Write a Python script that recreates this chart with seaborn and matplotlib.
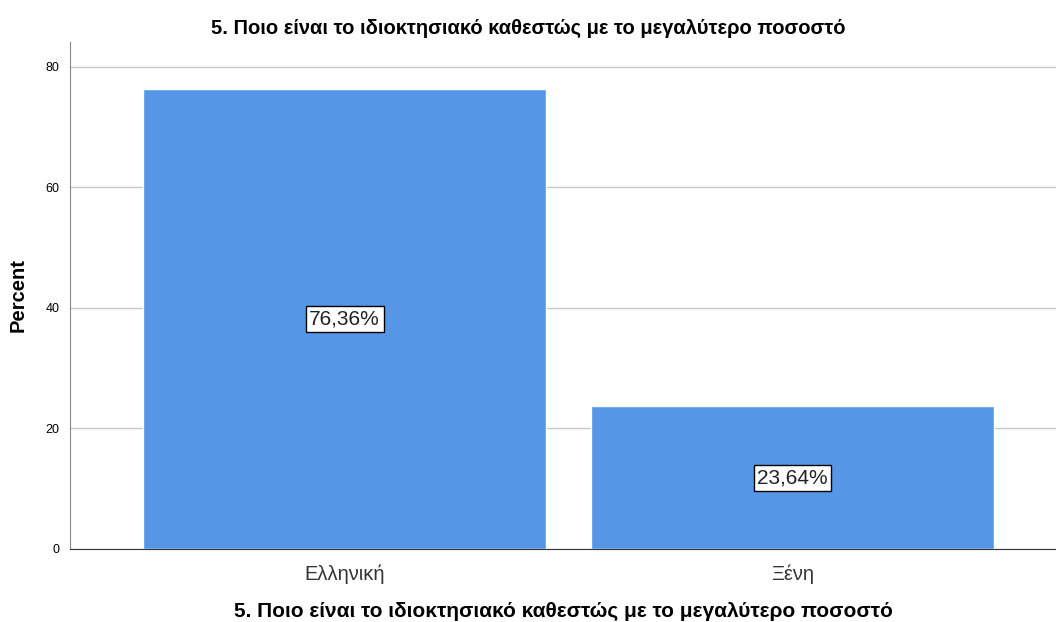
import seaborn as sns
import matplotlib.pyplot as plt
import pandas as pd

categories = ["Ελληνική", "Ξένη"]
percent = [76.36, 23.64]
labels = ["76,36%", "23,64%"]
title = "5. Ποιο είναι το ιδιοκτησιακό καθεστώς με το μεγαλύτερο ποσοστό"

df = pd.DataFrame({"cat": categories, "pct": percent})

sns.set_style("white")
plt.rcParams["font.family"] = ["Liberation Sans", "DejaVu Sans"]
plt.rcParams["text.color"] = "black"

fig = plt.figure(figsize=(10.56, 6.22), dpi=100)
ax = fig.add_axes([0.0663, 0.1174, 0.9337, 0.8151])

sns.barplot(x="cat", y="pct", data=df, color="#5596E6", saturation=1, width=0.9, ax=ax, zorder=3)

for i, (v, lab) in enumerate(zip(percent, labels)):
    ax.text(i, v / 2, lab, ha="center", va="center", fontsize=15, color="#222222", zorder=5,
            bbox=dict(boxstyle="square,pad=0.17", fc="white", ec="black", lw=1))

ax.set_ylim(0, 84.1)
ax.set_xlim(-0.613, 1.588)
ax.set_yticks([0, 20, 40, 60, 80])
ax.yaxis.grid(True, color="#c8c8c8", lw=1, zorder=0)
ax.tick_params(axis="y", labelsize=9, length=4, color="#888888", labelcolor="black")
ax.tick_params(axis="x", labelsize=14.5, length=0, pad=11, labelcolor="#333333")
for s in ["top", "right"]:
    ax.spines[s].set_visible(False)
ax.spines["left"].set_color("#888888")
ax.spines["bottom"].set_color("#333333")
ax.set_ylabel("Percent", fontsize=14.5, fontweight="bold", labelpad=13, color="black")
ax.set_xlabel(title, fontsize=15, fontweight="bold", labelpad=13, color="black")
fig.text(0.5, 0.955, title, ha="center", va="center", fontsize=14.5, fontweight="bold")

fig.savefig("out.png", dpi=100)
